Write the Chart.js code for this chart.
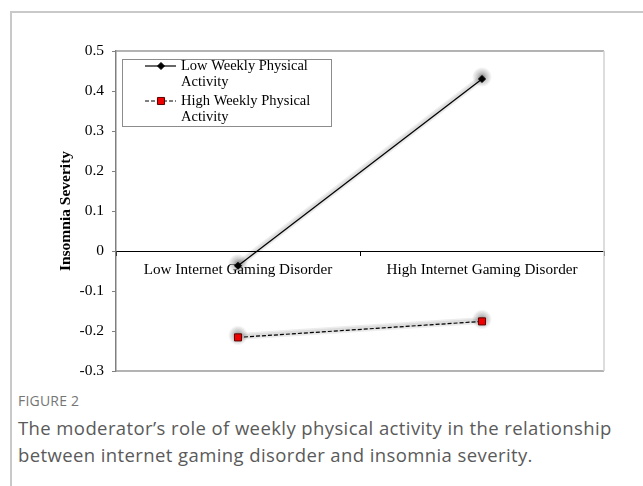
<!DOCTYPE html>
<html>
<head>
<meta charset="utf-8">
<script src="https://cdn.jsdelivr.net/npm/chart.js@4.4.1/dist/chart.umd.min.js"></script>
<style>
  body { margin: 0; background: #fff; width: 643px; height: 486px; overflow: hidden; position: relative; }
  .card { position: absolute; left: 10px; top: 11px; right: -5px; bottom: -5px;
          border-top: 2px solid #c9c9c9; border-left: 2px solid #c9c9c9; }
  #chart { position: absolute; left: 0; top: 0; }
  .fig { position: absolute; left: 18px; top: 391px; font-family: "Open Sans", sans-serif;
         font-size: 14px; color: #757575; letter-spacing: 0.2px; }
  .cap { position: absolute; left: 18px; top: 414px; width: 625px; font-family: "Open Sans", sans-serif;
         font-size: 18.5px; letter-spacing: 0.4px; line-height: 27px; color: #5a5a5a; }
</style>
</head>
<body>
<div class="card"></div>
<canvas id="chart" width="643" height="390"></canvas>
<div class="fig">FIGURE 2</div>
<div class="cap">The moderator’s role of weekly physical activity in the relationship between internet gaming disorder and insomnia severity.</div>
<script>
const categories = ["Low Internet Gaming Disorder", "High Internet Gaming Disorder"];
const lowActivity = [-0.037, 0.43];
const highActivity = [-0.216, -0.176];
const seriesNames = [["Low Weekly Physical", "Activity"], ["High Weekly Physical", "Activity"]];
const yTicks = [-0.3, -0.2, -0.1, 0, 0.1, 0.2, 0.3, 0.4, 0.5];
const yTitle = "Insomnia Severity";

const serif = "'Liberation Serif', 'Times New Roman', serif";

// frame, soft halo behind the markers, and the boxed legend
const extras = {
  id: "extras",
  beforeDatasetsDraw(chart) {
    const { ctx, chartArea: a } = chart;
    ctx.save();
    ctx.strokeStyle = "#9a9a9a";
    ctx.lineWidth = 1.5;
    ctx.beginPath();
    ctx.moveTo(a.left, a.top); ctx.lineTo(a.right, a.top);
    ctx.moveTo(a.left, a.bottom); ctx.lineTo(a.right, a.bottom);
    ctx.stroke();
    ctx.strokeStyle = "#d2d2d2";
    ctx.beginPath();
    ctx.moveTo(a.right, a.top); ctx.lineTo(a.right, a.bottom);
    ctx.stroke();

    chart.data.datasets.forEach((ds, i) => {
      const pts = chart.getDatasetMeta(i).data;
      // faint blur along the segment
      ctx.strokeStyle = "rgba(0,0,0,0.07)";
      ctx.lineCap = "round";
      [7, 4].forEach(w => {
        ctx.lineWidth = w;
        ctx.beginPath();
        pts.forEach((p, k) => (k ? ctx.lineTo(p.x, p.y - 1) : ctx.moveTo(p.x, p.y - 1)));
        ctx.stroke();
      });
      pts.forEach(p => {
        const g = ctx.createRadialGradient(p.x, p.y - 2, 0, p.x, p.y - 2, 10);
        g.addColorStop(0, "rgba(0,0,0,0.45)");
        g.addColorStop(0.5, "rgba(0,0,0,0.2)");
        g.addColorStop(1, "rgba(0,0,0,0)");
        ctx.fillStyle = g;
        ctx.beginPath();
        ctx.arc(p.x, p.y - 2, 10, 0, Math.PI * 2);
        ctx.fill();
      });
    });
    ctx.restore();
  },
  afterDraw(chart) {
    const { ctx, chartArea: a } = chart;
    const x0 = a.left + 6, y0 = a.top + 8;
    ctx.save();
    ctx.fillStyle = "#fff";
    ctx.fillRect(x0, y0, 209, 67);
    ctx.strokeStyle = "#8c8c8c";
    ctx.lineWidth = 1;
    ctx.strokeRect(x0 + 0.5, y0 + 0.5, 209, 67);
    ctx.font = "14.5px " + serif;
    ctx.textBaseline = "middle";
    seriesNames.forEach((lines, i) => {
      const ds = chart.data.datasets[i];
      const cy = y0 + 7 + i * 35;
      ctx.strokeStyle = "#000";
      ctx.lineWidth = 1.2;
      ctx.setLineDash(ds.borderDash || []);
      ctx.beginPath();
      ctx.moveTo(x0 + 23, cy); ctx.lineTo(x0 + 54, cy);
      ctx.stroke();
      ctx.setLineDash([]);
      ctx.fillStyle = ds.pointBackgroundColor;
      ctx.strokeStyle = ds.pointBorderColor;
      ctx.lineWidth = 1;
      Chart.helpers.drawPoint(ctx, {
        pointStyle: ds.pointStyle, radius: ds.pointRadius, borderWidth: 1
      }, x0 + 39, cy);
      ctx.fillStyle = "#000";
      lines.forEach((t, j) => ctx.fillText(t, x0 + 59, cy + j * 16));
    });
    ctx.restore();
  }
};

new Chart(document.getElementById("chart"), {
  type: "line",
  data: {
    labels: categories,
    datasets: [
      {
        label: seriesNames[0].join(" "),
        data: lowActivity,
        borderColor: "#000",
        borderWidth: 1.2,
        pointStyle: "rectRot",
        pointRadius: 3.5,
        pointBackgroundColor: "#000",
        pointBorderColor: "#000",
        pointBorderWidth: 1,
        tension: 0
      },
      {
        label: seriesNames[1].join(" "),
        data: highActivity,
        borderColor: "#000",
        borderWidth: 1.2,
        borderDash: [4, 2],
        pointStyle: "rect",
        pointRadius: 5,
        pointBackgroundColor: "#ee0000",
        pointBorderColor: "#5a0000",
        pointBorderWidth: 1,
        tension: 0
      }
    ]
  },
  options: {
    responsive: false,
    animation: false,
    devicePixelRatio: 1,
    layout: { padding: { left: 58, top: 51, right: 39, bottom: 19 } },
    plugins: { legend: { display: false }, tooltip: { enabled: false } },
    scales: {
      x: {
        position: { y: 0 },
        offset: true,
        grid: { offset: true, drawOnChartArea: false, drawTicks: true, tickLength: 4, color: "#000" },
        border: { display: true, color: "#000", width: 1 },
        ticks: { color: "#000", padding: 6, maxRotation: 0, font: { family: serif, size: 15.2 } }
      },
      y: {
        min: -0.3,
        max: 0.5,
        afterFit(scale) { scale.width = 58; },
        afterBuildTicks(scale) { scale.ticks = yTicks.map(v => ({ value: v })); },
        grid: { drawOnChartArea: false, drawTicks: true, tickLength: 4, color: "#808080" },
        border: { display: true, color: "#808080", width: 1.5 },
        ticks: {
          color: "#000", padding: 8, font: { family: serif, size: 15.5 },
          callback: v => (v === 0 ? "0" : v.toFixed(1))
        },
        title: {
          display: true, text: yTitle, color: "#000",
          padding: { top: 0, bottom: 0 },
          font: { family: serif, size: 15.5, weight: "bold", lineHeight: 1 }
        }
      }
    }
  },
  plugins: [extras]
});
</script>
</body>
</html>
